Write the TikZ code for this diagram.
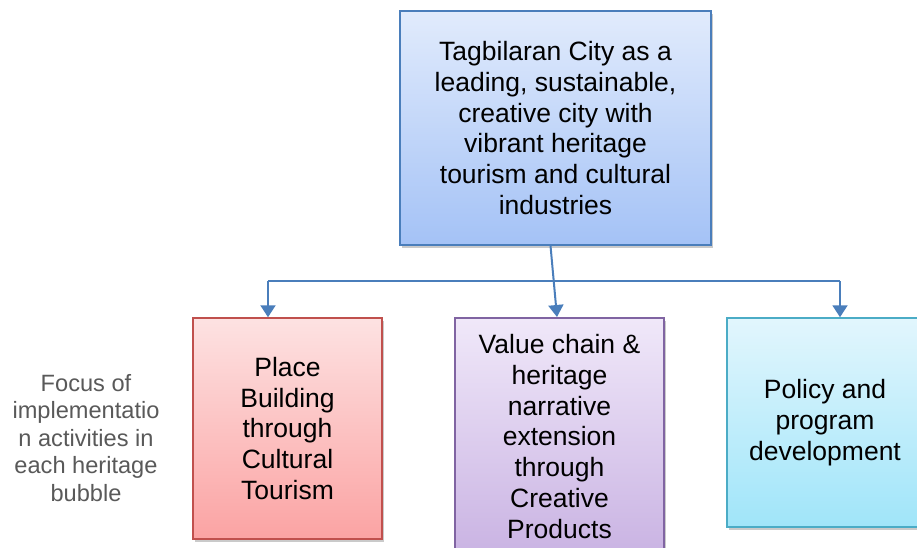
\documentclass[tikz,border=0pt]{standalone}
\usepackage{fontspec}
\setmainfont{Liberation Sans}
\usetikzlibrary{arrows.meta,shadows}
\definecolor{conn}{HTML}{4A7EBB}
\definecolor{txtgray}{HTML}{595959}
\definecolor{topA}{HTML}{E1EBFC}
\definecolor{topB}{HTML}{A4C2F6}
\definecolor{redD}{HTML}{C0504D}
\definecolor{redA}{HTML}{FDE2E2}
\definecolor{redB}{HTML}{FBA3A3}
\definecolor{purD}{HTML}{8064A2}
\definecolor{purA}{HTML}{F0E8F9}
\definecolor{purB}{HTML}{C8B1E2}
\definecolor{cyaD}{HTML}{4BACC6}
\definecolor{cyaA}{HTML}{E2F6FD}
\definecolor{cyaB}{HTML}{A0E5F9}
\tikzset{
  box/.style={draw, line width=1.5pt, align=center, inner sep=0pt,
    font=\fontsize{26.5}{30.8}\selectfont,
    drop shadow={shadow xshift=2pt, shadow yshift=-3pt, opacity=0.35, fill=black!60}},
  link/.style={draw=conn, line width=2pt},
  arr/.style={link, -{Triangle[width=15pt,length=12pt]}},
}
\begin{document}
\begin{tikzpicture}[x=1pt,y=-1pt]
\useasboundingbox (0,0) rectangle (917,548);
\begin{scope}
\clip (0,0) rectangle (917,548);
\node[box, draw=conn, top color=topA, bottom color=topB,
  minimum width=311pt, minimum height=234pt] (top) at (555.5,128)
  {Tagbilaran City as a\\leading, sustainable,\\creative city with\\vibrant heritage\\tourism and cultural\\industries};
\node[box, draw=redD, top color=redA, bottom color=redB,
  minimum width=189pt, minimum height=221pt] (red) at (287.5,428.5)
  {Place\\Building\\through\\Cultural\\Tourism};
\node[box, draw=purD, top color=purA, bottom color=purB,
  minimum width=209pt, minimum height=246pt] (purple) at (559.5,441)
  {};
\node[font=\fontsize{26.5}{30.8}\selectfont, align=center] (ptext) at (559.5,436.5)
  {Value chain \&\\heritage\\narrative\\extension\\through\\Creative\\Products};
\node[box, draw=cyaD, top color=cyaA, bottom color=cyaB,
  minimum width=196pt, minimum height=209pt] (cyan) at (825,422.5)
  {Policy and\\program\\development};
\end{scope}
\node[text=txtgray, align=center, font=\fontsize{23.6}{27.5}\selectfont] (focus) at (86,438)
  {Focus of\\implementatio\\n activities in\\each heritage\\bubble};
\coordinate (hl) at (268,281);
\coordinate (hr) at (840,281);
\draw[link] (hl) -- (hr);
\coordinate (ts) at ([xshift=-5pt]top.south);
\draw[arr] (ts) -- (557,317);
\draw[arr] (hl) -- (red.north -| hl);
\draw[arr] (hr) -- (cyan.north -| hr);
\end{tikzpicture}
\end{document}
